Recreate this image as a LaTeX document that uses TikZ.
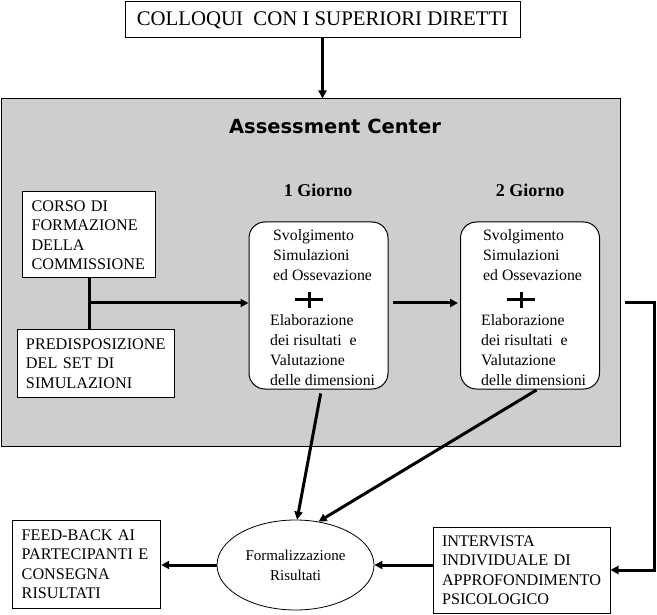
\documentclass[tikz,border=0pt]{standalone}
\usepackage{fontspec}
\setmainfont{Liberation Serif}
\newfontfamily\headfont{DejaVu Sans}
\usetikzlibrary{arrows.meta,shapes.geometric}
\definecolor{acgray}{RGB}{206,206,206}

\begin{document}
\begin{tikzpicture}[x=1pt, y=-1pt,
    main box/.style={draw, fill=white, line width=1pt, align=left, inner xsep=9pt, inner ysep=0pt, font=\fontsize{16.2}{19.5}\selectfont},
    day box/.style={draw, fill=white, line width=1pt, rounded corners=16pt, minimum width=139pt, minimum height=167pt},
    day text/.style={anchor=west, align=left, inner sep=0pt, font=\fontsize{15.8}{20}\selectfont},
    day title/.style={font=\fontsize{18}{20}\selectfont\bfseries},
    flow/.style={line width=3pt, -{Triangle[length=8pt,width=8pt]}},
    plus/.style={line width=3pt}]

    \useasboundingbox (0,0) rectangle (657,615);

    % assessment center frame
    \node[draw, line width=1pt, fill=acgray, minimum width=619pt, minimum height=347pt, inner sep=0pt] (ac) at (311.25,272.5) {};
    \node[font=\headfont\bfseries\fontsize{19.5}{22}\selectfont] (title) at (335,126) {Assessment Center};

    \node[main box, font=\fontsize{20.8}{22}\selectfont, minimum width=395pt, minimum height=36pt, inner sep=0pt, align=center] (sup) at (322.5,20) {COLLOQUI\ \ CON I SUPERIORI DIRETTI};

    \node[main box, text width=115pt, minimum height=86pt] (corso) at (89,235) {CORSO DI\\FORMAZIONE\\DELLA\\COMMISSIONE};
    \node[main box, text width=139pt, minimum height=67pt] (pred) at (95.5,363.5) {PREDISPOSIZIONE\\DEL SET DI\\SIMULAZIONI};

    % the two days
    \node[day title] (g1) at (318,190) {1 Giorno};
    \node[day title] (g2) at (530,190) {2 Giorno};
    \node[day box] (d1) at (318.5,305.5) {};
    \node[day box] (d2) at (530,305.5) {};
    \node[day text] (d1a) at (273,255) {Svolgimento\\Simulazioni\\ed Ossevazione};
    \node[day text] (d1b) at (270,350) {Elaborazione\\dei risultati\ \ e\\Valutazione\\delle dimensioni};
    \node[day text] (d2a) at (483,255) {Svolgimento\\Simulazioni\\ed Ossevazione};
    \node[day text] (d2b) at (481,350) {Elaborazione\\dei risultati\ \ e\\Valutazione\\delle dimensioni};
    \draw[plus] (295,300) -- (323,300) (309,292) -- (309,308);
    \draw[plus] (507,300) -- (535,300) (521,292) -- (521,308);

    % bottom row
    \node[main box, text width=130pt, minimum height=88pt] (fb) at (86.7,564) {FEED-BACK AI\\PARTECIPANTI E\\CONSEGNA\\RISULTATI};
    \node[draw, ellipse, line width=0.8pt, fill=white, minimum width=157pt, minimum height=90pt, inner sep=0pt, align=center, font=\fontsize{15}{20}\selectfont] (form) at (295.5,565) {Formalizzazione\\Risultati};
    \node[main box, text width=159pt, minimum height=86pt] (interv) at (521.5,570) {INTERVISTA\\INDIVIDUALE DI\\APPROFONDIMENTO\\PSICOLOGICO};

    \coordinate (j) at (89,303);
    \coordinate (rc) at (654,303);

    \draw[flow] (sup.south) -- (sup.south |- ac.north);
    \draw[line width=3pt] (corso.south) -- (pred.north -| corso.south);
    \draw[flow] (j) -- (j -| d1.west);
    \draw[flow, shorten <=4pt, shorten >=2pt] (d1.east |- j) -- (d2.west |- j);
    \draw[flow, shorten <=25pt] (d2.east |- j) -- (rc) |- (interv.east);
    \draw[flow, shorten <=4pt] (d1.-88) -- (form.88);
    \draw[flow, shorten <=1pt] (d2.-85) -- (form.62);
    \draw[flow] (interv.west |- form.east) -- (form.east);
    \draw[flow] (form.west) -- (form.west -| fb.east);

\end{tikzpicture}
\end{document}
